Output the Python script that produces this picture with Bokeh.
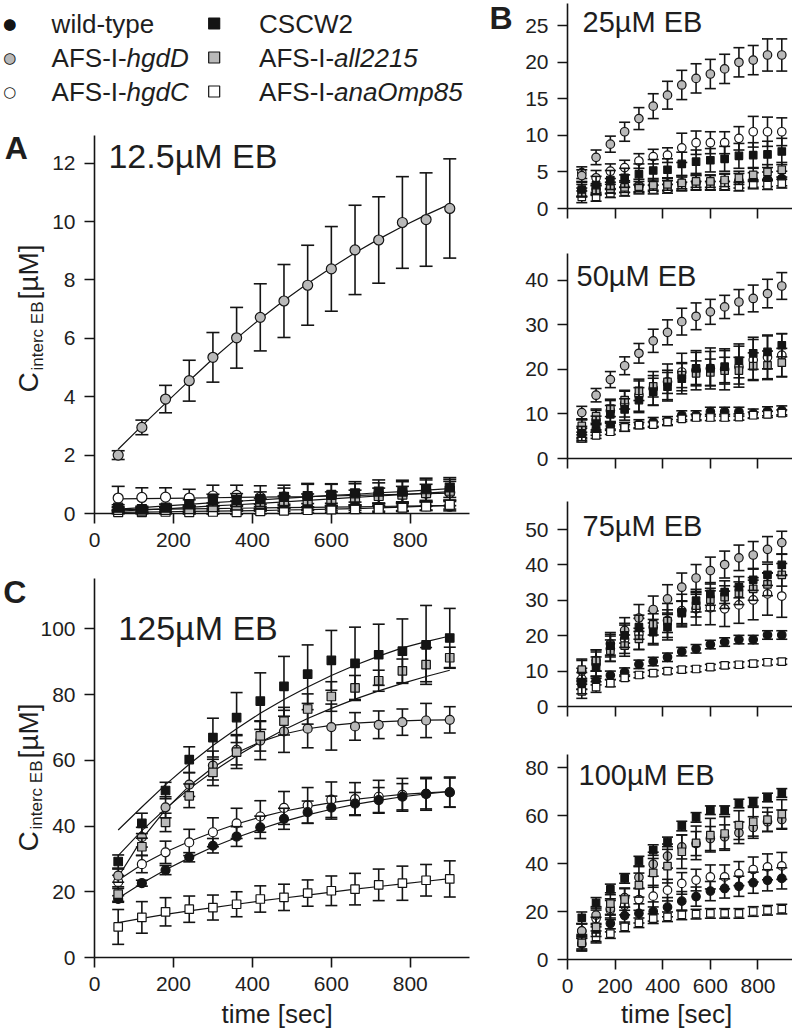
import math
from bokeh.plotting import figure
from bokeh.models import Range1d, FixedTicker
from bokeh.layouts import row, column
from bokeh.embed import file_html
from bokeh.resources import INLINE
from bokeh.core.properties import value

# ---------------- data ----------------
time_s = [60, 120, 180, 240, 300, 360, 420, 480, 540, 600, 660, 720, 780, 840, 900]
x_ticks = [0, 200, 400, 600, 800]

# Panel A: 12.5 uM EB
A_wt = [0.15, 0.12, 0.12, 0.15, 0.17, 0.18, 0.2, 0.2, 0.22, 0.22, 0.25, 0.22, 0.25, 0.27, 0.25]
A_hgdD = [2.0, 2.95, 3.92, 4.55, 5.35, 6.02, 6.72, 7.28, 7.82, 8.38, 9.03, 9.37, 9.97, 10.07, 10.45]
A_hgdC = [0.53, 0.55, 0.56, 0.53, 0.6, 0.62, 0.55, 0.57, 0.58, 0.6, 0.62, 0.65, 0.67, 0.7, 0.72]
A_CSCW2 = [0.2, 0.15, 0.2, 0.32, 0.46, 0.46, 0.49, 0.57, 0.6, 0.64, 0.69, 0.75, 0.75, 0.83, 0.89]
A_all2215 = [0.12, 0.1, 0.12, 0.15, 0.22, 0.28, 0.33, 0.4, 0.45, 0.5, 0.55, 0.6, 0.65, 0.7, 0.78]
A_ana = [0.05, 0.05, 0.06, 0.05, 0.06, 0.05, 0.08, 0.1, 0.12, 0.14, 0.15, 0.16, 0.2, 0.24, 0.3]

A_err_wt = [0.08, 0.07, 0.08, 0.1, 0.1, 0.1, 0.12, 0.12, 0.12, 0.13, 0.14, 0.14, 0.15, 0.15, 0.16]
A_err_hgdD = [0.15, 0.25, 0.47, 0.7, 0.85, 1.04, 1.15, 1.25, 1.37, 1.45, 1.53, 1.48, 1.57, 1.6, 1.7]
A_err_hgdC = [0.4, 0.33, 0.32, 0.3, 0.37, 0.35, 0.4, 0.4, 0.45, 0.42, 0.4, 0.4, 0.42, 0.45, 0.45]
A_err_CSCW2 = [0.1, 0.1, 0.12, 0.15, 0.2, 0.22, 0.25, 0.3, 0.4, 0.36, 0.4, 0.4, 0.39, 0.38, 0.34]
A_err_all2215 = [0.08, 0.08, 0.1, 0.12, 0.14, 0.15, 0.18, 0.2, 0.22, 0.24, 0.25, 0.27, 0.28, 0.3, 0.32]
A_err_ana = [0.06, 0.06, 0.07, 0.07, 0.08, 0.08, 0.09, 0.1, 0.1, 0.11, 0.12, 0.12, 0.13, 0.14, 0.15]

A_fit_wt = [0.13, 0.14, 0.15, 0.16, 0.17, 0.18, 0.19, 0.2, 0.21, 0.22, 0.23, 0.24, 0.25, 0.26, 0.27]
A_fit_hgdD = [2.2, 3.0, 3.78, 4.55, 5.3, 6.0, 6.67, 7.3, 7.88, 8.42, 8.93, 9.4, 9.83, 10.23, 10.6]
A_fit_hgdC = [0.5, 0.51, 0.52, 0.53, 0.54, 0.55, 0.56, 0.57, 0.58, 0.6, 0.62, 0.64, 0.66, 0.68, 0.7]
A_fit_CSCW2 = [0.15, 0.2, 0.26, 0.31, 0.37, 0.42, 0.47, 0.52, 0.57, 0.62, 0.66, 0.71, 0.75, 0.8, 0.85]
A_fit_all2215 = [0.08, 0.12, 0.16, 0.21, 0.26, 0.3, 0.35, 0.4, 0.45, 0.5, 0.55, 0.6, 0.65, 0.7, 0.75]
A_fit_ana = [0.04, 0.05, 0.06, 0.07, 0.08, 0.09, 0.1, 0.12, 0.13, 0.15, 0.17, 0.19, 0.22, 0.25, 0.28]

# Panel C: 125 uM EB
C_wt = [17.8, 22.6, 26.6, 30.5, 34.0, 36.8, 39.6, 42.2, 44.2, 45.6, 46.8, 47.9, 48.9, 49.8, 50.2]
C_hgdD = [24.9, 36.6, 45.7, 52.6, 58.4, 63.2, 66.0, 68.8, 69.6, 70.1, 70.3, 70.8, 71.6, 72.1, 72.3]
C_hgdC = [23.0, 28.4, 32.0, 35.0, 38.1, 40.8, 42.9, 45.5, 46.3, 48.0, 48.2, 48.9, 49.5, 49.8, 50.3]
C_CSCW2 = [29.2, 40.8, 50.8, 60.2, 66.9, 73.0, 78.0, 82.5, 86.2, 90.4, 89.5, 92.1, 93.2, 95.1, 97.2]
C_all2215 = [19.3, 33.7, 41.1, 49.2, 56.3, 62.5, 67.4, 71.9, 75.6, 79.4, 82.0, 84.2, 87.2, 89.1, 91.2]
C_ana = [9.3, 12.2, 13.9, 14.7, 15.2, 16.2, 17.8, 18.3, 19.6, 20.3, 20.8, 22.1, 22.6, 23.5, 23.9]

C_err_wt = [1.0, 0.9, 1.4, 1.4, 2.2, 3.0, 3.4, 3.2, 3.4, 3.5, 3.4, 3.8, 4.0, 4.6, 4.4]
C_err_hgdD = [2.0, 3.0, 3.2, 3.6, 4.4, 4.6, 5.8, 6.4, 5.8, 7.0, 4.2, 4.2, 4.0, 5.2, 4.0]
C_err_hgdC = [2.0, 2.6, 3.4, 4.0, 4.4, 4.6, 4.8, 5.0, 5.4, 5.4, 5.0, 5.0, 5.0, 5.0, 4.6]
C_err_CSCW2 = [2.0, 3.1, 2.5, 3.9, 5.9, 7.6, 8.6, 9.1, 8.9, 9.1, 11.0, 9.3, 9.8, 12.0, 9.0]
C_err_all2215 = [2.2, 2.6, 2.8, 3.6, 4.0, 5.0, 4.6, 4.2, 4.6, 4.5, 3.8, 3.2, 3.6, 5.2, 3.2]
C_err_ana = [5.3, 4.8, 4.3, 4.0, 3.8, 3.8, 4.0, 4.0, 4.0, 4.5, 4.8, 4.8, 5.2, 4.8, 5.5]

C_fit_wt = [18.0, 22.6, 26.7, 30.3, 33.6, 36.5, 39.1, 41.4, 43.4, 45.1, 46.6, 47.8, 48.9, 49.8, 50.5]
C_fit_hgdD = [24.5, 36.0, 45.0, 52.2, 57.8, 62.3, 65.6, 68.0, 69.6, 70.6, 71.3, 71.7, 72.0, 72.2, 72.3]
C_fit_hgdC = [23.5, 28.3, 32.1, 35.3, 38.1, 40.6, 42.7, 44.5, 45.9, 47.1, 48.1, 48.9, 49.6, 50.1, 50.5]
C_fit_CSCW2 = [38.8, 45.8, 52.6, 58.8, 64.5, 69.6, 74.3, 78.5, 82.3, 85.8, 88.9, 91.7, 94.2, 96.1, 97.8]
C_fit_all2215 = [31.0, 38.6, 45.3, 51.3, 56.6, 61.3, 65.5, 69.3, 72.7, 75.8, 78.6, 81.1, 83.4, 85.5, 87.4]
C_fit_ana = [10.6, 11.9, 13.1, 14.2, 15.2, 16.2, 17.2, 18.1, 19.0, 19.9, 20.8, 21.6, 22.4, 23.2, 24.0]

# Panel B1: 25 uM EB
B1_wt = [2.5, 2.6, 2.8, 3.0, 3.1, 3.2, 3.3, 3.5, 3.6, 3.6, 3.7, 3.8, 3.9, 4.0, 4.1]
B1_hgdD = [4.5, 7.0, 8.8, 10.5, 12.3, 14.0, 15.5, 16.9, 17.8, 18.4, 19.1, 20.0, 20.3, 21.0, 21.0]
B1_hgdC = [4.9, 4.2, 5.1, 5.6, 6.5, 7.1, 7.3, 8.3, 9.0, 9.0, 9.0, 9.6, 10.5, 10.5, 10.5]
B1_CSCW2 = [2.6, 3.2, 3.9, 4.2, 4.7, 5.2, 5.3, 6.1, 6.4, 6.6, 6.8, 7.2, 7.3, 7.4, 7.8]
B1_all2215 = [2.2, 2.5, 2.7, 2.9, 3.0, 3.2, 3.3, 3.5, 3.7, 3.7, 3.9, 4.2, 4.6, 5.0, 5.3]
B1_ana = [1.6, 1.6, 2.1, 2.3, 2.6, 2.6, 2.7, 3.0, 3.1, 3.1, 3.1, 3.0, 3.3, 3.2, 3.4]
B1_err_wt = [0.8, 0.8, 0.8, 0.8, 0.9, 0.9, 0.9, 1.0, 1.0, 1.0, 1.0, 1.0, 1.0, 1.0, 1.0]
B1_err_hgdD = [0.8, 1.0, 1.1, 1.3, 1.5, 1.7, 1.9, 2.0, 2.0, 2.0, 2.0, 2.0, 2.0, 2.2, 2.2]
B1_err_hgdC = [0.8, 1.0, 1.0, 1.0, 1.0, 1.0, 1.0, 2.0, 1.6, 1.5, 1.5, 1.6, 2.1, 2.0, 1.9]
B1_err_CSCW2 = [1.0, 1.2, 1.3, 1.3, 1.4, 1.5, 1.5, 1.6, 1.6, 1.6, 1.7, 1.7, 1.7, 1.8, 1.8]
B1_err_all2215 = [0.6, 0.6, 0.6, 0.7, 0.7, 0.7, 0.8, 0.8, 0.8, 0.8, 0.9, 0.9, 0.9, 1.0, 1.0]
B1_err_ana = [0.8, 0.6, 0.6, 0.6, 0.6, 0.6, 0.6, 0.6, 0.6, 0.6, 0.6, 0.6, 0.6, 0.6, 0.6]

# Panel B2: 50 uM EB
B2_wt = [5.6, 6.4, 7.3, 7.1, 7.7, 8.2, 8.4, 9.7, 9.7, 10.5, 10.5, 10.5, 10.1, 10.6, 10.8]
B2_hgdD = [10.3, 14.2, 17.7, 20.8, 23.6, 26.4, 28.3, 30.7, 31.9, 32.9, 34.0, 35.1, 35.9, 37.0, 38.7]
B2_hgdC = [6.7, 8.6, 10.7, 12.3, 14.2, 15.7, 17.2, 19.4, 19.8, 20.2, 20.0, 20.6, 22.1, 22.7, 23.2]
B2_CSCW2 = [5.6, 7.7, 9.9, 11.0, 13.1, 15.0, 16.1, 17.9, 20.2, 20.2, 20.6, 21.9, 23.6, 23.9, 25.4]
B2_all2215 = [7.3, 9.5, 11.2, 13.1, 15.2, 16.2, 17.2, 18.7, 19.1, 19.3, 19.7, 19.7, 20.7, 20.9, 21.5]
B2_ana = [4.5, 5.2, 6.0, 7.0, 7.5, 7.6, 8.2, 8.9, 9.2, 9.2, 9.2, 9.3, 9.7, 9.9, 10.2]
B2_err_wt = [1.2, 1.2, 1.0, 1.0, 1.0, 1.0, 1.0, 1.0, 1.0, 1.0, 1.0, 1.0, 1.0, 1.0, 1.0]
B2_err_hgdD = [1.4, 1.5, 1.8, 2.0, 2.2, 2.6, 2.8, 3.0, 3.0, 2.8, 2.6, 2.8, 3.0, 3.2, 3.0]
B2_err_hgdC = [2.0, 2.2, 2.6, 3.0, 3.6, 3.8, 4.0, 4.2, 4.4, 4.6, 4.6, 4.6, 4.6, 4.8, 4.8]
B2_err_CSCW2 = [1.6, 1.8, 2.0, 2.4, 2.8, 3.0, 3.2, 3.4, 3.6, 3.8, 3.6, 3.8, 3.6, 3.8, 2.6]
B2_err_all2215 = [1.4, 1.6, 1.8, 2.0, 2.2, 2.4, 2.6, 2.8, 2.8, 3.0, 3.0, 3.0, 3.0, 3.2, 3.2]
B2_err_ana = [0.8, 0.7, 0.6, 0.6, 0.6, 0.6, 0.6, 0.6, 0.7, 0.7, 0.7, 0.7, 0.7, 0.7, 0.7]

# Panel B3: 75 uM EB
B3_wt = [6.4, 7.3, 8.8, 9.7, 11.9, 12.7, 13.9, 15.5, 16.3, 17.5, 18.2, 18.9, 18.9, 20.2, 20.2]
B3_hgdD = [10.0, 13.0, 17.7, 21.5, 25.0, 27.4, 30.4, 33.7, 36.3, 38.4, 40.1, 42.0, 42.8, 44.4, 46.3]
B3_hgdC = [7.8, 12.0, 16.3, 19.0, 20.5, 22.4, 24.3, 27.1, 27.6, 27.9, 27.6, 28.7, 30.1, 31.8, 31.2]
B3_CSCW2 = [6.6, 11.0, 17.2, 20.1, 22.4, 21.0, 22.4, 26.4, 29.9, 31.8, 32.3, 33.7, 35.8, 37.2, 40.0]
B3_all2215 = [10.4, 13.0, 15.8, 17.2, 19.1, 23.2, 24.1, 26.6, 28.5, 30.2, 30.9, 32.0, 33.2, 34.5, 37.2]
B3_ana = [4.3, 5.5, 6.6, 8.1, 8.9, 9.4, 10.0, 10.4, 10.6, 11.1, 11.6, 11.8, 12.1, 12.5, 12.7]
B3_err_wt = [1.5, 1.2, 1.2, 1.2, 1.2, 1.2, 1.2, 1.2, 1.2, 1.2, 1.2, 1.2, 1.2, 1.2, 1.2]
B3_err_hgdD = [3.0, 3.0, 3.2, 3.6, 3.8, 3.8, 4.0, 4.0, 3.8, 3.8, 3.8, 3.6, 3.8, 3.6, 3.2]
B3_err_hgdC = [3.0, 3.4, 3.6, 4.0, 4.4, 4.6, 4.8, 4.6, 4.6, 4.8, 5.0, 5.2, 5.6, 6.0, 6.0]
B3_err_CSCW2 = [3.0, 3.0, 3.2, 3.4, 3.4, 3.6, 3.6, 3.4, 3.2, 3.2, 3.2, 3.0, 3.0, 3.0, 3.0]
B3_err_all2215 = [3.0, 3.0, 3.0, 3.0, 3.0, 3.0, 3.2, 3.2, 3.2, 3.2, 3.2, 3.2, 3.2, 3.2, 3.2]
B3_err_ana = [2.0, 1.5, 1.0, 0.8, 0.8, 0.8, 0.8, 0.8, 0.8, 0.8, 0.8, 0.8, 0.8, 0.8, 0.8]

# Panel B4: 100 uM EB
B4_wt = [6.5, 11.0, 15.0, 18.3, 19.2, 20.0, 21.8, 24.3, 26.2, 28.5, 29.6, 30.5, 32.0, 33.0, 33.8]
B4_hgdD = [11.9, 18.5, 21.3, 25.8, 34.2, 39.7, 43.1, 46.9, 48.3, 50.4, 51.1, 52.8, 55.0, 57.4, 58.3]
B4_hgdC = [11.8, 17.1, 20.6, 22.6, 25.0, 26.4, 28.9, 31.7, 33.1, 34.4, 34.4, 35.8, 37.5, 38.6, 39.0]
B4_CSCW2 = [17.4, 23.6, 29.2, 33.8, 41.0, 45.6, 49.0, 55.6, 59.2, 62.2, 62.2, 65.0, 65.7, 67.5, 69.4]
B4_all2215 = [6.9, 13.6, 23.3, 25.0, 31.0, 36.1, 38.9, 44.9, 48.6, 51.8, 52.5, 56.0, 57.4, 58.3, 60.6]
B4_ana = [7.4, 9.4, 10.8, 13.6, 15.3, 17.0, 17.8, 18.6, 18.9, 19.2, 19.2, 19.2, 20.0, 20.5, 21.0]
B4_err_wt = [3.0, 3.5, 3.5, 3.5, 4.0, 4.0, 4.0, 4.0, 4.0, 4.0, 4.0, 4.2, 4.4, 4.4, 4.4]
B4_err_hgdD = [3.0, 3.5, 4.0, 4.0, 4.5, 5.0, 5.0, 5.0, 5.0, 5.0, 5.0, 4.5, 4.5, 4.0, 4.0]
B4_err_hgdC = [3.0, 3.5, 4.0, 4.0, 4.5, 4.5, 4.5, 4.5, 4.5, 5.0, 5.0, 5.0, 5.2, 5.4, 5.6]
B4_err_CSCW2 = [2.4, 2.2, 2.2, 2.0, 2.0, 2.2, 2.0, 2.0, 2.0, 1.8, 1.8, 1.8, 1.8, 1.8, 1.8]
B4_err_all2215 = [3.0, 4.0, 4.5, 4.5, 5.0, 6.0, 7.0, 7.0, 7.0, 7.0, 7.0, 6.0, 6.0, 5.0, 6.0]
B4_err_ana = [3.0, 2.5, 2.0, 2.0, 2.0, 2.0, 2.0, 2.0, 2.0, 2.0, 2.0, 2.0, 2.0, 2.0, 2.0]

A_yticks = [0, 2, 4, 6, 8, 10, 12]
C_yticks = [0, 20, 40, 60, 80, 100]
B1_yticks = [0, 5, 10, 15, 20, 25]
B2_yticks = [0, 10, 20, 30, 40]
B3_yticks = [0, 10, 20, 30, 40, 50]
B4_yticks = [0, 20, 40, 60, 80]

# ---------------- styling ----------------
BLACK = "#141414"
GRAY = "#b9b9b9"
WHITE = "#ffffff"
INK = "#1e1e1e"
FONT = "Liberation Sans"

# key, marker, fill, legend text, italic part
SERIES = [
    ("wt", "circle", BLACK, "wild-type", ""),
    ("hgdD", "circle", GRAY, "AFS-I-", "hgdD"),
    ("hgdC", "circle", WHITE, "AFS-I-", "hgdC"),
    ("CSCW2", "square", BLACK, "CSCW2", ""),
    ("all2215", "square", GRAY, "AFS-I-", "all2215"),
    ("ana", "square", WHITE, "AFS-I-", "anaOmp85"),
]
DRAW_ORDER = ["hgdC", "hgdD", "wt", "ana", "all2215", "CSCW2"]
STYLE = {k: (m, f) for k, m, f, _, _ in SERIES}


def make_panel(g, yticks, show_xlabels):
    # g["ft"]: top of the drawn y axis; g["frame_top"]: top of the plotting frame
    sx = (g["fr"] - g["fl"]) / g["x_end"]
    sy = g["sy"]
    frame_top = g.get("frame_top", g["ft"])
    axis_end = (g["y0"] - g["ft"]) / sy
    y_end = (g["y0"] - frame_top) / sy
    p = figure(width=g["w"], height=g["h"],
               x_range=Range1d(0, g["x_end"]), y_range=Range1d(0, y_end),
               output_backend="svg", toolbar_location=None,
               min_border_left=g["fl"] - g["left"],
               min_border_right=g["left"] + g["w"] - g["fr"],
               min_border_top=frame_top - g["top"],
               min_border_bottom=g["top"] + g["h"] - g["y0"])
    p.outline_line_color = None
    p.grid.visible = False
    p.background_fill_color = "white"
    p.border_fill_color = "white"
    for ax in (p.xaxis[0], p.yaxis[0]):
        ax.axis_line_color = BLACK
        ax.axis_line_width = 1.6
        ax.major_tick_line_color = BLACK
        ax.major_tick_line_width = 1.6
        ax.major_tick_out = 10
        ax.major_tick_in = 0
        ax.minor_tick_line_color = None
        ax.major_label_text_font = FONT
        ax.major_label_text_font_size = "21px"
        ax.major_label_text_color = INK
        ax.major_label_standoff = 9
    p.yaxis.bounds = (0, axis_end)
    p.xaxis.ticker = FixedTicker(ticks=x_ticks)
    p.yaxis.ticker = FixedTicker(ticks=yticks)
    if not show_xlabels:
        p.xaxis.major_label_text_color = None
        p.xaxis.major_label_text_font_size = "10px"
        p.xaxis.major_label_standoff = 0

    def to_data(px_, py_):
        return (px_ - g["fl"]) / sx, (g["y0"] - py_) / sy
    return p, to_data


def add_text(p, to_data, px_, py_, text, size, style="normal", angle=0.0, align="left",
             font=FONT, color=INK):
    # (px_, py_) = page position of the text's left end (or centre) and vertical middle
    x, y = to_data(px_, py_)
    p.text([x], [y], text=[text], text_font=value(font), text_font_size=value(f"{size}px"),
           text_font_style=value(style), text_color=color, angle=angle,
           text_align=align, text_baseline="middle", level="overlay")


def draw_series(p, vals, errs, fits, msize_c, msize_s, cap):
    if fits is not None:
        for key in DRAW_ORDER:
            p.line(time_s, fits[key], line_color=BLACK, line_width=1.2)
    for key in DRAW_ORDER:
        marker, fill = STYLE[key]
        y = vals[key]
        e = errs[key]
        up = [a + b for a, b in zip(y, e)]
        lo = [a - b for a, b in zip(y, e)]
        p.segment(x0=time_s, y0=lo, x1=time_s, y1=up, line_color=BLACK, line_width=1.6,
                  level="overlay")
        p.scatter(time_s, up, marker="dash", size=cap, line_color=BLACK, line_width=1.6,
                  level="overlay")
        p.scatter(time_s, lo, marker="dash", size=cap, line_color=BLACK, line_width=1.6,
                  level="overlay")
        p.scatter(time_s, y, marker=marker, size=(msize_c if marker == "circle" else msize_s),
                  fill_color=fill, line_color=BLACK, line_width=1.2, level="overlay")


def pack(prefix):
    g = globals()
    return {k: g[f"{prefix}_{k}"] for k in ["wt", "hgdD", "hgdC", "CSCW2", "all2215", "ana"]}


def draw_y_label(p, to_data, x_mid, y_start):
    # "C" + subscript "interc EB" + "[µM]", rotated, reading upward
    add_text(p, to_data, x_mid, y_start, "C", 28, angle=math.pi / 2)
    add_text(p, to_data, x_mid + 9, y_start - 22, "interc EB", 17, angle=math.pi / 2)
    add_text(p, to_data, x_mid, y_start - 93, "[µM]", 28, angle=math.pi / 2)


# ---------------- geometry (page pixels) ----------------
GA = dict(left=0, top=0, w=488, h=560, fl=93, fr=469, ft=135, frame_top=0,
          x_end=950, y0=513, sy=29.19)
GC = dict(left=0, top=560, w=488, h=470, fl=94, fr=472, ft=578, x_end=950, y0=957, sy=3.287)
GB1 = dict(left=488, top=0, w=304, h=235, fl=567, fr=792, ft=3, x_end=945, y0=208, sy=7.31)
GB2 = dict(left=488, top=235, w=304, h=250, fl=567, fr=792, ft=253, x_end=945, y0=458, sy=4.458)
GB3 = dict(left=488, top=485, w=304, h=248, fl=567, fr=792, ft=501, x_end=945, y0=706, sy=3.54)
GB4 = dict(left=488, top=733, w=304, h=297, fl=567, fr=792, ft=754, x_end=945, y0=959, sy=2.4)

# ---------------- panel A (with the legend above it) ----------------
pA, dA = make_panel(GA, A_yticks, True)
draw_series(pA, pack("A"), pack("A_err"), pack("A_fit"), 10, 9, 13)

LEG_FONT = 26
col_marker_x = [8, 213]
col_text_x = [50, 258]
row_mid = [23, 57, 91]
for i, (key, marker, fill, txt, ital) in enumerate(SERIES):
    c, r = divmod(i, 3)
    if c == 0:
        # first legend column lies left of the plotting frame: symbol drawn as glyph text
        add_text(pA, dA, col_marker_x[c], row_mid[r], "●", 15, align="center",
                 font="DejaVu Sans", color=fill)
        add_text(pA, dA, col_marker_x[c], row_mid[r], "○", 15, align="center",
                 font="DejaVu Sans", color=BLACK)
    else:
        mx, my = dA(col_marker_x[c], row_mid[r])
        pA.scatter([mx], [my], marker=marker, size=11, fill_color=fill, line_color=BLACK,
                   line_width=1.2, level="overlay")
    add_text(pA, dA, col_text_x[c], row_mid[r], txt, LEG_FONT)
    if ital:
        add_text(pA, dA, col_text_x[c] + 2.889 * LEG_FONT, row_mid[r], ital, LEG_FONT, "italic")

add_text(pA, dA, 3, 147, "A", 32, "bold")
add_text(pA, dA, 107, 155, "12.5µM EB", 34)
draw_y_label(pA, dA, 27, 392)

# ---------------- panel C ----------------
pC, dC = make_panel(GC, C_yticks, True)
draw_series(pC, pack("C"), pack("C_err"), pack("C_fit"), 9, 8.5, 12)
add_text(pC, dC, 2, 591, "C", 32, "bold")
add_text(pC, dC, 118, 627, "125µM EB", 34)
draw_y_label(pC, dC, 27, 851)
add_text(pC, dC, 278, 1013, "time [sec]", 26, align="center")

# ---------------- panels B ----------------
pB1, d1 = make_panel(GB1, B1_yticks, False)
draw_series(pB1, pack("B1"), pack("B1_err"), None, 8.5, 7.5, 11)
add_text(pB1, d1, 489, 17, "B", 32, "bold")
add_text(pB1, d1, 582, 21, "25µM EB", 29)

pB2, d2 = make_panel(GB2, B2_yticks, False)
draw_series(pB2, pack("B2"), pack("B2_err"), None, 8.5, 7.5, 11)
add_text(pB2, d2, 576, 275, "50µM EB", 29)

pB3, d3 = make_panel(GB3, B3_yticks, False)
draw_series(pB3, pack("B3"), pack("B3_err"), None, 8.5, 7.5, 11)
add_text(pB3, d3, 582, 525, "75µM EB", 29)

pB4, d4 = make_panel(GB4, B4_yticks, True)
draw_series(pB4, pack("B4"), pack("B4_err"), None, 8.5, 7.5, 11)
add_text(pB4, d4, 578, 774, "100µM EB", 29)
add_text(pB4, d4, 676, 1013, "time [sec]", 26, align="center")

layout = row(column(pA, pC), column(pB1, pB2, pB3, pB4))
open("out.html", "w").write(file_html(layout, INLINE))
